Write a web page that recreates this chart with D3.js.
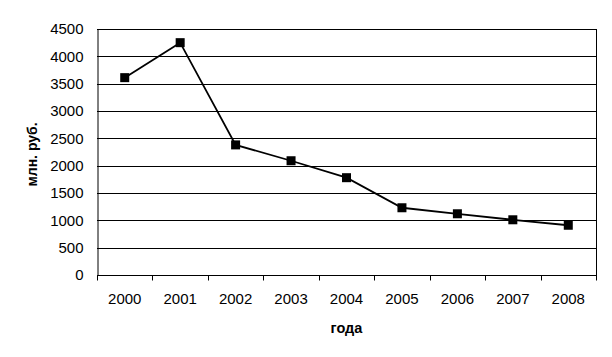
<!DOCTYPE html>
<html><head><meta charset="utf-8">
<script src="https://cdn.jsdelivr.net/npm/d3@7"></script>
<style>body{margin:0;background:#fff}svg{display:block}text{font-family:"Liberation Sans",Arial,sans-serif}</style>
</head><body>
<script>
const years = ["2000","2001","2002","2003","2004","2005","2006","2007","2008"];
const values = [3610, 4250, 2380, 2090, 1780, 1230, 1120, 1010, 910];
const yTicks = [0,500,1000,1500,2000,2500,3000,3500,4000,4500];
const yTitle = "млн. руб.";
const xTitle = "года";

const W=612,H=357;
const m={l:97,r:16,t:29,b:82};
const svg=d3.select("body").append("svg").attr("width",W).attr("height",H);
const x=d3.scaleBand().domain(years).range([m.l,W-m.r]);
const y=d3.scaleLinear().domain([0,4500]).range([H-m.b,m.t]);

const g=svg.append("g");
// gridlines
g.selectAll("line.grid").data(yTicks.filter(d=>d>0)).join("line")
 .attr("x1",m.l).attr("x2",W-m.r).attr("y1",d=>Math.round(y(d))+0.5).attr("y2",d=>Math.round(y(d))+0.5)
 .attr("stroke","#000").attr("stroke-width",1);
// right border
g.append("line").attr("x1",W-m.r+0.5).attr("x2",W-m.r+0.5).attr("y1",m.t).attr("y2",H-m.b).attr("stroke","#000");

// y axis
const ya=svg.append("g").attr("transform",`translate(${m.l+0.5},0)`)
 .call(d3.axisLeft(y).tickValues(yTicks).tickFormat(d3.format("d")).tickSize(0).tickPadding(14));
ya.select(".domain").attr("stroke","#000");
ya.selectAll("text").attr("font-size",15).attr("fill","#000").attr("font-family","Liberation Sans, Arial, sans-serif");

// x axis
const xa=svg.append("g").attr("transform",`translate(0,${Math.round(y(0))+0.5})`)
 .call(d3.axisBottom(x).tickSize(0));
xa.select(".domain").remove();
xa.append("line").attr("x1",m.l).attr("x2",W-m.r+1).attr("stroke","#000");
const bounds=years.map(d=>x(d)).concat([x.range()[1]]);
xa.selectAll("line.tk").data(bounds).join("line").attr("class","tk")
 .attr("x1",d=>Math.round(d)+0.5).attr("x2",d=>Math.round(d)+0.5).attr("y1",0).attr("y2",5).attr("stroke","#000");
xa.selectAll("text").attr("font-size",15).attr("fill","#000").attr("y",28).attr("dy",0)
 .attr("font-family","Liberation Sans, Arial, sans-serif");

// line
const line=d3.line().x((d,i)=>x(years[i])+x.bandwidth()/2).y(d=>y(d));
svg.append("path").datum(values).attr("d",line).attr("fill","none").attr("stroke","#000").attr("stroke-width",1.8);
svg.selectAll("rect.pt").data(values).join("rect").attr("class","pt")
 .attr("x",(d,i)=>x(years[i])+x.bandwidth()/2-4.5).attr("y",d=>y(d)-4.5)
 .attr("width",9).attr("height",9).attr("fill","#000");

// titles
svg.append("text").attr("transform",`translate(37,154.5) rotate(-90)`)
 .attr("text-anchor","middle").attr("font-size",14).attr("font-weight","bold").text(yTitle);
svg.append("text").attr("x",346.5).attr("y",333)
 .attr("text-anchor","middle").attr("font-size",14.5).attr("font-weight","bold").text(xTitle);
</script>
</body></html>
